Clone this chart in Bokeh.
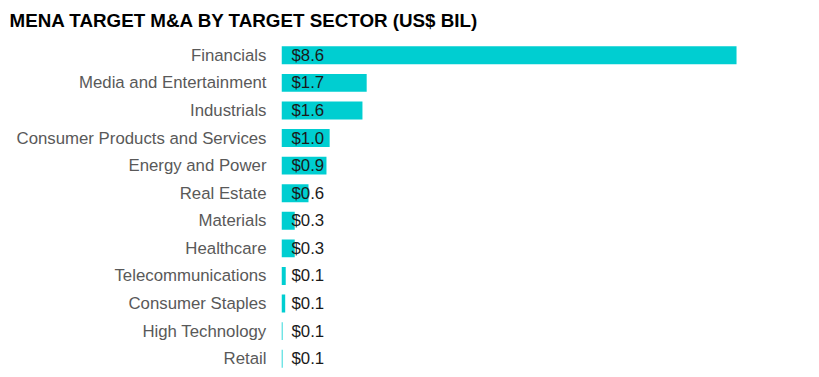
from bokeh.plotting import figure
from bokeh.models import Range1d, FactorRange, ColumnDataSource
from bokeh.core.properties import value
from bokeh.embed import file_html
from bokeh.resources import INLINE

sectors = ["Financials", "Media and Entertainment", "Industrials",
           "Consumer Products and Services", "Energy and Power", "Real Estate",
           "Materials", "Healthcare", "Telecommunications", "Consumer Staples",
           "High Technology", "Retail"]
values = [8.6, 1.61, 1.53, 0.91, 0.85, 0.51, 0.25, 0.25, 0.08, 0.07, 0.02, 0.02]
value_labels = ["$8.6", "$1.7", "$1.6", "$1.0", "$0.9", "$0.6",
                "$0.3", "$0.3", "$0.1", "$0.1", "$0.1", "$0.1"]
title_text = "MENA TARGET M&A BY TARGET SECTOR (US$ BIL)"

FONT = "Liberation Sans"
BAR = "#00CED1"

src = ColumnDataSource(dict(sector=sectors, val=values, lab=value_labels,
                            zero=[0] * len(sectors)))

p = figure(width=819, height=377, output_backend="svg", toolbar_location=None,
           y_range=FactorRange(*reversed(sectors), range_padding=0),
           x_range=Range1d(0, 9.79),
           min_border_left=281, min_border_right=20,
           min_border_top=41, min_border_bottom=5)

p.hbar(y="sector", right="val", left=0, height=0.65, source=src,
       fill_color=BAR, line_color=None)
p.text(x="zero", y="sector", text="lab", source=src, x_offset=10,
       text_baseline="middle", text_align="left",
       text_font=value(FONT), text_font_size="16.8px", text_color="#1a1a1a")

p.title.text = title_text
p.title.text_font = FONT
p.title.text_font_size = "18.8px"
p.title.text_font_style = "bold"
p.title.text_color = "#000000"
p.title.align = "left"
p.title.vertical_align = "top"
p.title.offset = -272
p.title.standoff = 18

p.xaxis.visible = False
p.yaxis.axis_line_color = None
p.yaxis.major_tick_line_color = None
p.yaxis.minor_tick_line_color = None
p.yaxis.major_tick_out = 0
p.yaxis.major_label_standoff = 15
p.yaxis.major_label_text_font = FONT
p.yaxis.major_label_text_font_size = "16.8px"
p.yaxis.major_label_text_color = "#595959"
p.xgrid.visible = False
p.ygrid.visible = False
p.outline_line_color = None
p.background_fill_color = "white"
p.border_fill_color = "white"

open("out.html", "w").write(file_html(p, INLINE))
